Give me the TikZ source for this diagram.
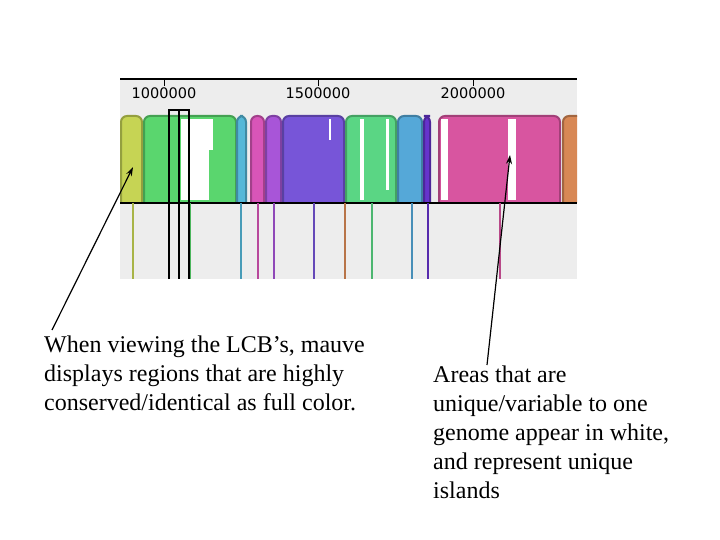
\documentclass[tikz,border=0pt]{standalone}
\usepackage{fontspec}
\setmainfont{Liberation Serif}
\setsansfont{DejaVu Sans}
\usetikzlibrary{arrows.meta}
\definecolor{c1}{HTML}{C6D454}\definecolor{c2}{HTML}{5AD66E}\definecolor{c3}{HTML}{55B8D8}
\definecolor{c4}{HTML}{D855B8}\definecolor{c5}{HTML}{A855D8}\definecolor{c6}{HTML}{7755D8}
\definecolor{c7}{HTML}{5AD684}\definecolor{c8}{HTML}{55A8D8}\definecolor{c9}{HTML}{6633CC}
\definecolor{c10}{HTML}{D855A0}\definecolor{c11}{HTML}{D88855}
\begin{document}
\begin{tikzpicture}[x=1pt,y=-1pt,
 blk/.style={rounded corners=6pt, line width=2pt},
 vl/.style={line width=1.2pt},
 lbl/.style={font=\sffamily\fontsize{14.5}{16}\selectfont, anchor=center},
 txt/.style={font=\fontsize{24}{29}\selectfont, align=left, anchor=north west, inner sep=0pt},
 arr/.style={-{Stealth[length=9pt,width=6pt]}, line width=1.2pt}]
\useasboundingbox (0,0) rectangle (720,540);
\fill[white] (0,0) rectangle (720,540);
\fill[black!7] (120,80) rectangle (577,279);
\draw[line width=1.5pt] (120,79) -- (577,79);
\foreach \x/\t in {164/1000000,318/1500000,473/2000000}{
 \draw[line width=1pt] (\x,79) -- (\x,86);
 \node[lbl] (t\x) at (\x,93) {\t};}
\begin{scope}
\clip (120,100) rectangle (577,203);
\foreach \a/\b/\c in {121/142/c1,144/236/c2,237/246/c3,251/264/c4,266/281/c5,283/344/c6,346/396/c7,398/422/c8,424/430/c9,439/560/c10,563/600/c11}{
 \filldraw[blk, fill=\c, draw=\c!75!black] (\a,116) rectangle (\b,212);}
\fill[white] (181,119) rectangle (209,200);
\fill[white] (209,119) rectangle (213,150);
\fill[white] (508,119) rectangle (516,200);
\fill[white] (441,119) rectangle (448,200);
\fill[white] (360,119) rectangle (364,200);
\fill[white] (386,119) rectangle (389,190);
\fill[white] (329,119) rectangle (331,140);
\end{scope}
\draw[line width=1.2pt] (120,203) -- (577,203);
\foreach \x/\c in {133/c1,190/c2,241/c3,258/c4,274/c5,314/c6,345/c11,372/c7,412/c8,428/c9,500/c10}{
 \draw[vl, draw=\c!85!black] (\x,203) -- (\x,279);}
\draw[line width=1.5pt] (169,279) -- (169,110) -- (189,110) -- (189,279);
\draw[line width=1.5pt] (179,110) -- (179,279);
\node[txt] (L) at (44,336) {When viewing the LCB’s, mauve\\displays regions that are highly\\conserved/identical as full color.};
\node[txt] (R) at (433,366) {Areas that are\\unique/variable to one\\genome appear in white,\\and represent unique\\islands};
\coordinate (a1) at (133,167); \coordinate (a2) at (510,155);
\draw[arr] (52,330) -- (a1);
\draw[arr] (487,365) -- (a2);
\end{tikzpicture}
\end{document}
